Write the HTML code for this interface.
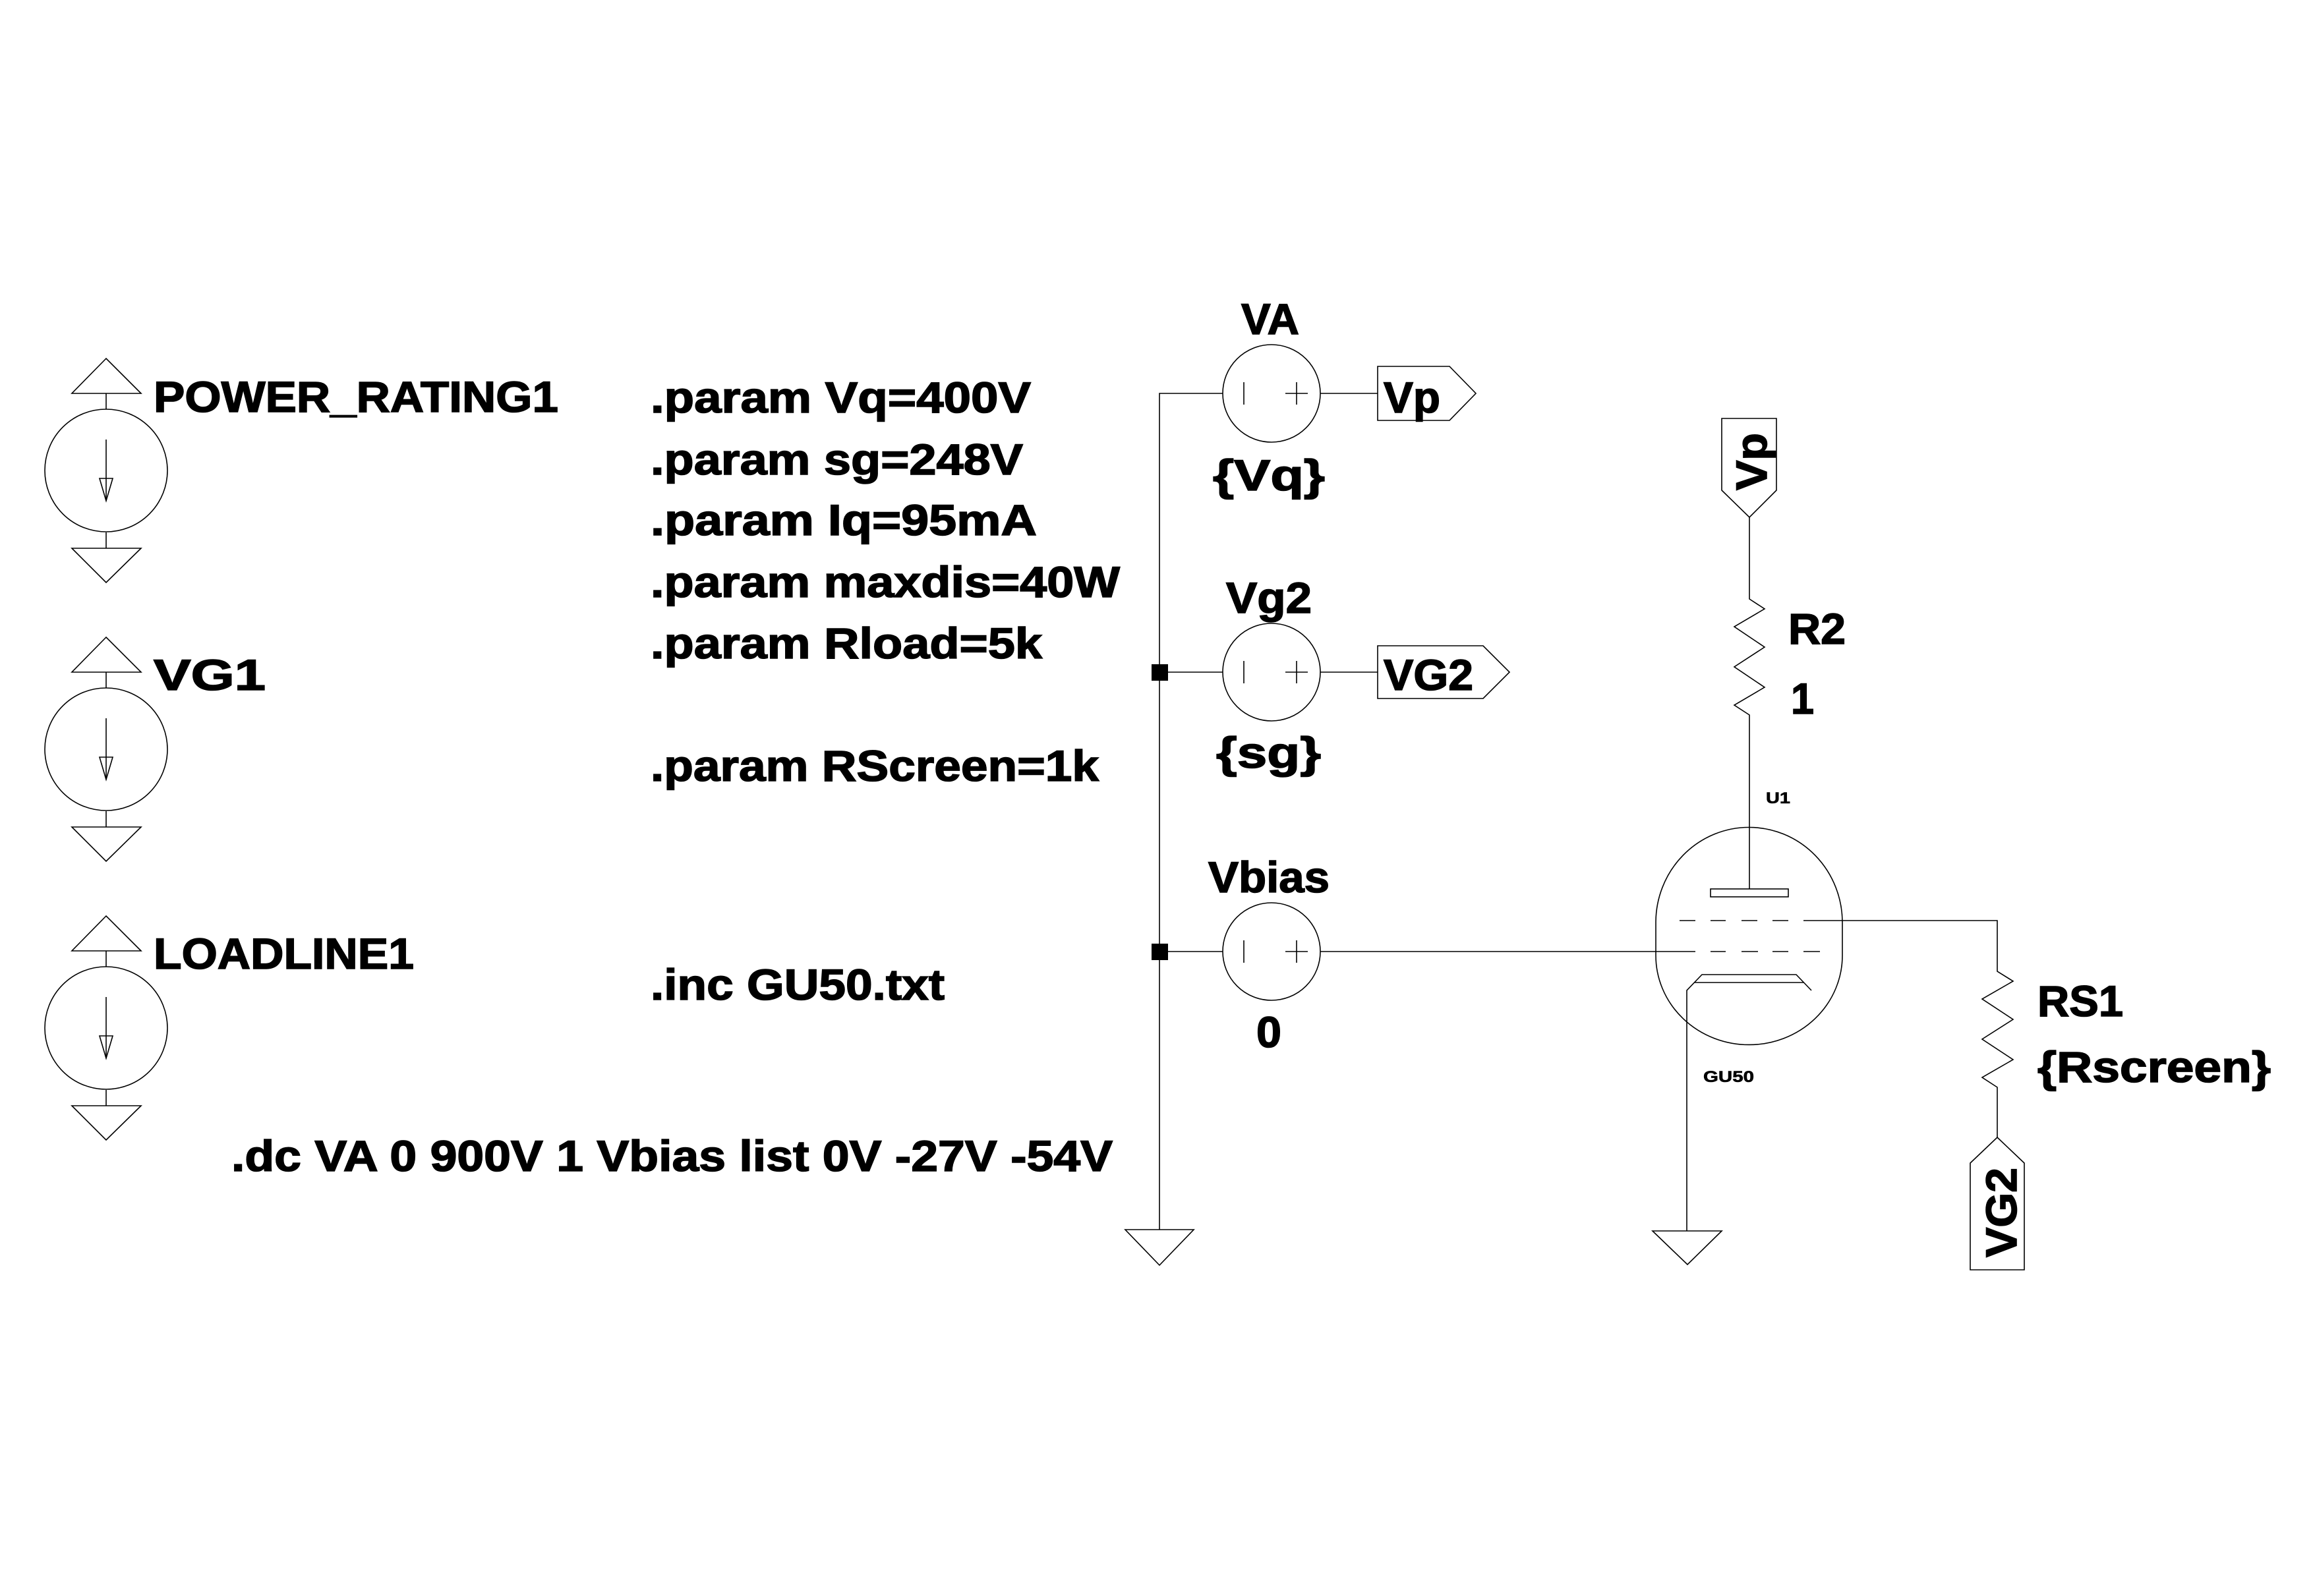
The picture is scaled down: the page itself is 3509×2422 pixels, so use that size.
<!DOCTYPE html>
<html><head><meta charset="utf-8"><style>
html,body{margin:0;padding:0;background:#fff;}
svg{display:block;}
text{font-family:"Liberation Sans",sans-serif;font-weight:bold;fill:#000;stroke:#000;stroke-width:1.6;}
</style></head><body>
<svg width="3509" height="2422" viewBox="0 0 3509 2422" xmlns="http://www.w3.org/2000/svg">
<g fill="none" stroke="#000" stroke-width="1.6">
<g id="src">
<polygon points="161,544 109,597 214,597"/>
<line x1="161" y1="597" x2="161" y2="621"/>
<circle cx="161" cy="714" r="93"/>
<line x1="161" y1="667" x2="161" y2="760"/>
<polygon points="151,726 171,726 161,760"/>
<line x1="161" y1="808" x2="161" y2="832"/>
<polygon points="109,832 214,832 161,884"/>
</g>
<use href="#src" y="423"/>
<use href="#src" y="846"/>

<polyline points="1855,597 1759,597 1759,1866"/>
<polygon points="1707,1866 1811,1866 1759,1920"/>
<line x1="1759" y1="1020" x2="1855" y2="1020"/>
<line x1="1759" y1="1444" x2="1855" y2="1444"/>

<g id="vs">
<circle cx="1929" cy="597" r="74"/>
<line x1="1887" y1="580" x2="1887" y2="614"/>
<line x1="1950" y1="597" x2="1984" y2="597"/>
<line x1="1967" y1="580" x2="1967" y2="614"/>
</g>
<use href="#vs" y="423"/>
<use href="#vs" y="847"/>
<line x1="2003" y1="597" x2="2090" y2="597"/>
<line x1="2003" y1="1020" x2="2090" y2="1020"/>
<line x1="2003" y1="1444" x2="2572" y2="1444"/>

<polygon points="2090,556 2199,556 2239,597 2199,638 2090,638"/>
<polygon points="2090,980 2250,980 2290,1020 2250,1060 2090,1060"/>
<polygon points="2612,635 2695,635 2695,744 2654,785 2612,744"/>
<polygon points="3030,1726 3071,1765 3071,1927 2989,1927 2989,1765"/>

<polyline points="2654,785 2654,909 2677,924 2631,951 2677,982 2631,1012 2677,1043 2631,1070 2654,1085 2654,1349"/>
<polyline points="2736,1397 3030,1397 3030,1474 3054,1489 3007,1516 3054,1547 3007,1577 3054,1608 3007,1635 3030,1650 3030,1726"/>

<path d="M2512,1400 A141,144 0 0 1 2795,1400 L2795,1450 A141,135 0 0 1 2512,1450 Z"/>
<rect x="2595" y="1349" width="118" height="12"/>
<g>
<line x1="2548" y1="1397" x2="2572" y2="1397"/>
<line x1="2595" y1="1397" x2="2618" y2="1397"/>
<line x1="2642" y1="1397" x2="2666" y2="1397"/>
<line x1="2689" y1="1397" x2="2713" y2="1397"/>
<line x1="2595" y1="1444" x2="2618" y2="1444"/>
<line x1="2642" y1="1444" x2="2667" y2="1444"/>
<line x1="2689" y1="1444" x2="2713" y2="1444"/>
<line x1="2736" y1="1444" x2="2761" y2="1444"/>
</g>
<polyline points="2748,1503 2725,1479 2582,1479 2559,1503 2559,1868"/>
<line x1="2571" y1="1491" x2="2736" y2="1491"/>
<polygon points="2507,1868 2612,1868 2560,1919"/>
</g>
<rect x="1747" y="1008" width="25" height="25" fill="#000"/>
<rect x="1747" y="1432" width="25" height="25" fill="#000"/>

<g font-size="66">
<text x="233" y="625" textLength="614" lengthAdjust="spacingAndGlyphs">POWER_RATING1</text>
<text x="233" y="1047" textLength="170" lengthAdjust="spacingAndGlyphs">VG1</text>
<text x="233" y="1470" textLength="395" lengthAdjust="spacingAndGlyphs">LOADLINE1</text>
<text x="987" y="626" textLength="577" lengthAdjust="spacingAndGlyphs">.param Vq=400V</text>
<text x="987" y="720" textLength="565" lengthAdjust="spacingAndGlyphs">.param sg=248V</text>
<text x="987" y="812" textLength="586" lengthAdjust="spacingAndGlyphs">.param Iq=95mA</text>
<text x="987" y="906" textLength="712" lengthAdjust="spacingAndGlyphs">.param maxdis=40W</text>
<text x="987" y="999" textLength="594" lengthAdjust="spacingAndGlyphs">.param Rload=5k</text>
<text x="987" y="1185" textLength="680" lengthAdjust="spacingAndGlyphs">.param RScreen=1k</text>
<text x="987" y="1517" textLength="446" lengthAdjust="spacingAndGlyphs">.inc GU50.txt</text>
<text x="351" y="1777" textLength="1337" lengthAdjust="spacingAndGlyphs">.dc VA 0 900V 1 Vbias list 0V -27V -54V</text>
<text x="1883" y="507" textLength="88" lengthAdjust="spacingAndGlyphs">VA</text>
<text x="1840" y="744" textLength="170" lengthAdjust="spacingAndGlyphs">{Vq}</text>
<text x="1860" y="930" textLength="130" lengthAdjust="spacingAndGlyphs">Vg2</text>
<text x="1845" y="1165" textLength="159" lengthAdjust="spacingAndGlyphs">{sg}</text>
<text x="1833" y="1354" textLength="184" lengthAdjust="spacingAndGlyphs">Vbias</text>
<text x="1906" y="1589" textLength="38" lengthAdjust="spacingAndGlyphs">0</text>
<text x="2099" y="626" textLength="86" lengthAdjust="spacingAndGlyphs">Vp</text>
<text x="2099" y="1047" textLength="136" lengthAdjust="spacingAndGlyphs">VG2</text>
<text x="2713" y="977" textLength="87" lengthAdjust="spacingAndGlyphs">R2</text>
<text x="2717" y="1083" textLength="35" lengthAdjust="spacingAndGlyphs">1</text>
<text x="3091" y="1542" textLength="130" lengthAdjust="spacingAndGlyphs">RS1</text>
<text x="3091" y="1642" textLength="354" lengthAdjust="spacingAndGlyphs">{Rscreen}</text>
<text transform="translate(2680,744) rotate(-90)" textLength="87" lengthAdjust="spacingAndGlyphs">Vp</text>
<text transform="translate(3059,1908) rotate(-90)" textLength="136" lengthAdjust="spacingAndGlyphs">VG2</text>
</g>
<text x="2679" y="1219" font-size="24" textLength="37" lengthAdjust="spacingAndGlyphs" style="stroke-width:0.6">U1</text>
<text x="2584" y="1642" font-size="24" textLength="77" lengthAdjust="spacingAndGlyphs" style="stroke-width:0.6">GU50</text>
</svg>
</body></html>
